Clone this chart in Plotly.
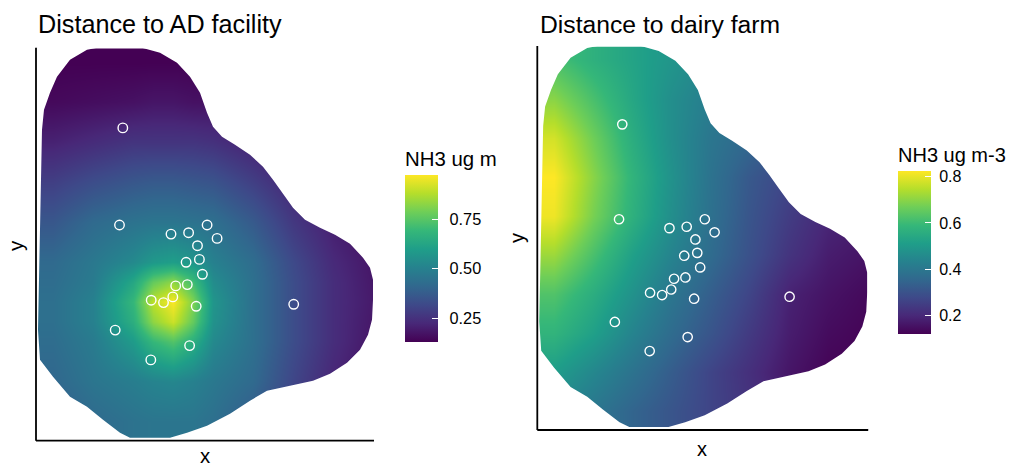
import plotly.graph_objects as go

# ---------------- data ----------------
# grid node coordinates (arbitrary map units, no ticks shown)
node_x_ad = [17, 57, 97, 117, 137, 157, 177, 217, 257, 297, 337]
node_y_ad = [19, 59, 99, 119, 139, 159, 179, 219, 259, 299, 339, 379]
# NH3 (ug m-3), panel "Distance to AD facility"; rows follow node_y_ad
nh3_ad = [
    [.37, .42, .45, .46, .46, .46, .44, .37, .28, .20, .16],
    [.41, .46, .49, .51, .52, .50, .47, .42, .31, .22, .17],
    [.43, .48, .59, .69, .74, .66, .53, .44, .33, .24, .18],
    [.44, .50, .66, .83, .91, .77, .56, .44, .33, .24, .185],
    [.44, .50, .69, .89, .97, .81, .57, .44, .33, .24, .19],
    [.43, .48, .63, .77, .83, .71, .54, .44, .33, .24, .185],
    [.42, .47, .53, .58, .60, .57, .50, .43, .32, .23, .18],
    [.36, .42, .45, .46, .46, .45, .44, .37, .27, .20, .16],
    [.29, .33, .36, .37, .37, .36, .35, .29, .22, .16, .14],
    [.21, .235, .26, .26, .26, .26, .25, .21, .16, .14, .13],
    [.15, .16, .17, .18, .18, .17, .17, .15, .135, .13, .13],
    [.13, .13, .13, .13, .13, .13, .13, .13, .13, .13, .13],
]

node_x_dairy = [17, 57, 97, 137, 177, 217, 257, 297, 337]
node_y_dairy = [19, 59, 99, 139, 179, 219, 259, 299, 339, 379]
# NH3 (ug m-3), panel "Distance to dairy farm"; rows follow node_y_dairy
nh3_dairy = [
    [.45, .40, .35, .31, .27, .23, .18, .14, .124],
    [.51, .45, .39, .33, .27, .22, .165, .13, .124],
    [.58, .52, .44, .37, .31, .245, .18, .145, .13],
    [.63, .56, .48, .40, .335, .27, .19, .16, .14],
    [.72, .62, .52, .44, .37, .30, .23, .18, .16],
    [.81, .68, .57, .47, .385, .31, .25, .20, .18],
    [.826, .70, .58, .48, .39, .32, .27, .24, .21],
    [.78, .67, .56, .47, .40, .36, .31, .28, .25],
    [.70, .62, .54, .47, .42, .38, .34, .31, .28],
    [.62, .57, .53, .49, .45, .42, .38, .35, .32],
]

# sampling stations (same in both panels)
station_x = [86.8, 83.5, 135.0, 152.6, 171.1, 181.1, 161.5, 163.4, 150.1, 166.4,
             151.3, 139.7, 136.8, 127.5, 115.2, 160.2, 257.7, 79.2, 153.6, 114.8]
station_y = [312.8, 215.7, 206.6, 208.0, 215.7, 202.3, 195.0, 181.3, 178.4, 166.4,
             156.1, 154.8, 143.8, 138.1, 140.5, 134.4, 136.4, 110.6, 95.1, 80.8]

# outline of the interpolated area
area_x = [34, 51, 64, 104, 124, 141, 154, 164, 171, 177, 186, 199, 214, 227, 237, 247,
          257, 269, 284, 299, 314, 327, 334, 337, 337, 336, 332, 324, 311, 294, 277, 254,
          231, 214, 194, 171, 151, 134, 94, 84, 67, 51, 34, 17, 4, 2, 3, 4, 5, 6, 8, 14, 21]
area_y = [381, 391, 393.5, 393.5, 388, 378, 364, 348, 328, 314, 304, 296, 286, 274, 261, 247,
          233, 221, 213, 206, 197, 183, 173, 161, 141, 121, 106, 91, 78, 67, 60, 55,
          50, 40, 27, 15, 8, 3, 3, 8, 21, 34, 44, 64, 81, 111, 161, 211, 261, 311, 331, 348, 364]

titles = ["Distance to AD facility", "Distance to dairy farm"]
legend_titles = ["NH3 ug m", "NH3 ug m-3"]
ticks_ad = [0.25, 0.50, 0.75]
ticklabels_ad = ["0.25", "0.50", "0.75"]
ticks_dairy = [0.2, 0.4, 0.6, 0.8]
ticklabels_dairy = ["0.2", "0.4", "0.6", "0.8"]

# ---------------- figure ----------------
W, H = 1013, 468
FONT = "Liberation Sans, Arial, Helvetica, sans-serif"
XR = [0, 338]
YR = [0, 393]
PAD1 = "\u00a0\u2009"   # small gap between colour bar and its labels
PAD2 = "\u00a0"


def px_x(p):
    return p / W


def px_y(p):
    return 1 - p / H


fig = go.Figure()

fig.add_trace(go.Heatmap(
    x=node_x_ad, y=node_y_ad, z=nh3_ad, zsmooth="best",
    colorscale="Viridis", zmin=0.131, zmax=0.974,
    xaxis="x", yaxis="y", hoverinfo="skip",
    colorbar=dict(
        x=px_x(405), xanchor="left", xpad=0,
        y=px_y((148 + 341.7) / 2), yanchor="middle", ypad=0,
        len=341.7 - 148, lenmode="pixels", thickness=33, thicknessmode="pixels",
        outlinewidth=0, ticks="inside", ticklen=6, tickcolor="white", tickwidth=1,
        tickvals=ticks_ad, ticktext=[PAD1 + t for t in ticklabels_ad],
        tickfont=dict(family=FONT, size=16.3, color="black"),
        title=dict(text=legend_titles[0], side="top",
                   font=dict(family=FONT, size=20.4, color="black")),
    ),
))
fig.add_trace(go.Scatter(
    x=station_x, y=station_y, mode="markers", xaxis="x", yaxis="y",
    marker=dict(symbol="circle-open", size=9.5, color="white", line=dict(width=1.4)),
    showlegend=False, hoverinfo="skip",
))

fig.add_trace(go.Heatmap(
    x=node_x_dairy, y=node_y_dairy, z=nh3_dairy, zsmooth="best",
    colorscale="Viridis", zmin=0.124, zmax=0.826,
    xaxis="x2", yaxis="y2", hoverinfo="skip",
    colorbar=dict(
        x=px_x(898), xanchor="left", xpad=0,
        y=px_y((143.7 + 333.3) / 2), yanchor="middle", ypad=0,
        len=333.3 - 143.7, lenmode="pixels", thickness=33, thicknessmode="pixels",
        outlinewidth=0, ticks="inside", ticklen=6, tickcolor="white", tickwidth=1,
        tickvals=ticks_dairy, ticktext=[PAD2 + t for t in ticklabels_dairy],
        tickfont=dict(family=FONT, size=16, color="black"),
        title=dict(text=legend_titles[1], side="top",
                   font=dict(family=FONT, size=20, color="black")),
    ),
))
fig.add_trace(go.Scatter(
    x=station_x, y=station_y, mode="markers", xaxis="x2", yaxis="y2",
    marker=dict(symbol="circle-open", size=9.3, color="white", line=dict(width=1.4)),
    showlegend=False, hoverinfo="skip",
))

ax_common = dict(showgrid=False, zeroline=False, showticklabels=False, ticks="",
                 showline=False, fixedrange=True)

fig.update_layout(
    width=W, height=H, margin=dict(l=0, r=0, t=0, b=0),
    paper_bgcolor="white", plot_bgcolor="white",
    font=dict(family=FONT, color="black"),
    xaxis=dict(domain=[px_x(36), px_x(374)], range=XR, anchor="y", **ax_common),
    yaxis=dict(domain=[px_y(440.7), px_y(47.7)], range=YR, anchor="x", **ax_common),
    xaxis2=dict(domain=[px_x(537.3), px_x(868.2)], range=XR, anchor="y2", **ax_common),
    yaxis2=dict(domain=[px_y(430), px_y(46)], range=YR, anchor="x2", **ax_common),
    showlegend=False,
)

# white mask outside the interpolated area
outline = "M " + " L ".join(f"{x},{y}" for x, y in zip(area_x, area_y)) + " Z"
outer = "M -30,-30 L 370,-30 L 370,430 L -30,430 Z "
shapes = []
for xr, yr in (("x", "y"), ("x2", "y2")):
    shapes.append(dict(type="path", path=outer + outline, xref=xr, yref=yr,
                       fillcolor="white", fillrule="evenodd",
                       line=dict(width=0), layer="above"))
for xr, yr in (("x domain", "y domain"), ("x2 domain", "y2 domain")):
    # clean the anti-aliased seam at the top and right plot edges
    shapes.append(dict(type="rect", xref=xr, yref=yr, x0=0.004, x1=1.02, y0=0.998, y1=1.02,
                       fillcolor="white", line=dict(width=0), layer="above"))
    shapes.append(dict(type="rect", xref=xr, yref=yr, x0=0.998, x1=1.02, y0=0.004, y1=1.02,
                       fillcolor="white", line=dict(width=0), layer="above"))
    shapes.append(dict(type="line", xref=xr, yref=yr, x0=0, x1=0, y0=0, y1=1,
                       line=dict(color="black", width=1.8), layer="above"))
    shapes.append(dict(type="line", xref=xr, yref=yr, x0=0, x1=1, y0=0, y1=0,
                       line=dict(color="black", width=1.8), layer="above"))
fig.update_layout(shapes=shapes)

annotations = [
    dict(text=titles[0], x=px_x(36), y=px_y(24), xanchor="left", yanchor="middle",
         font=dict(size=25.2)),
    dict(text=titles[1], x=px_x(537.5), y=px_y(24), xanchor="left", yanchor="middle",
         font=dict(size=24.7)),
    dict(text="x", x=px_x(205), y=px_y(456), xanchor="center", yanchor="middle",
         font=dict(size=20.4)),
    dict(text="x", x=px_x(702), y=px_y(449), xanchor="center", yanchor="middle",
         font=dict(size=20)),
    dict(text="y", x=px_x(16), y=px_y(245), xanchor="center", yanchor="middle",
         textangle=-90, font=dict(size=20.4)),
    dict(text="y", x=px_x(517), y=px_y(238), xanchor="center", yanchor="middle",
         textangle=-90, font=dict(size=20)),
]
for a in annotations:
    a.update(xref="paper", yref="paper", showarrow=False)
    a["font"].update(family=FONT, color="black")
fig.update_layout(annotations=annotations)

fig.write_html("out.html")
